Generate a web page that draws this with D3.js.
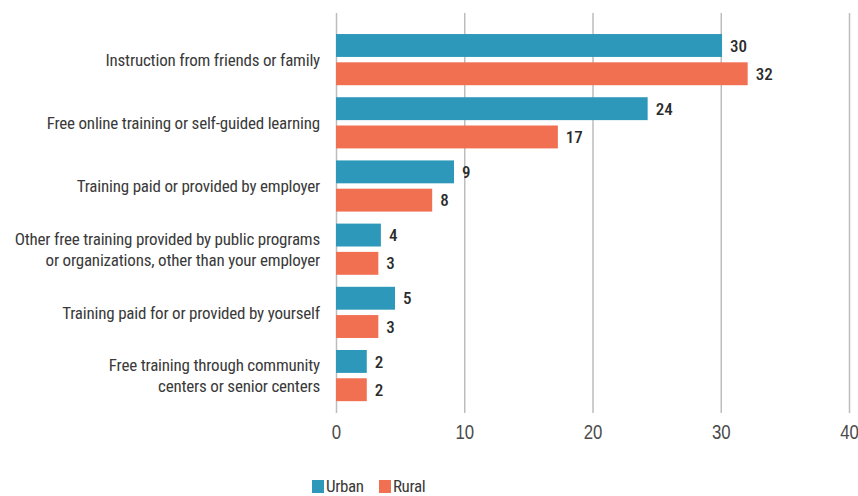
<!DOCTYPE html>
<html>
<head>
<meta charset="utf-8">
<script src="https://cdn.jsdelivr.net/npm/d3@7"></script>
<style>
  html, body { margin: 0; padding: 0; background: #fff; }
  svg { display: block; font-family: "Roboto Condensed", "Liberation Sans Narrow", "Roboto", sans-serif; }
</style>
</head>
<body>
<svg id="chart" width="858" height="496"></svg>
<script>
// Sources of digital-skills training, share of respondents (%)
const categories = [
  ["Instruction from friends or family"],
  ["Free online training or self-guided learning"],
  ["Training paid or provided by employer"],
  ["Other free training provided by public programs", "or organizations, other than your employer"],
  ["Training paid for or provided by yourself"],
  ["Free training through community", "centers or senior centers"]
];
const urban = [30.1, 24.3, 9.2, 3.5, 4.6, 2.4];
const rural = [32.1, 17.3, 7.5, 3.3, 3.3, 2.4];
const seriesNames = ["Urban", "Rural"];
const seriesColors = ["#2e98ba", "#f17052"];
const xTicks = [0, 10, 20, 30, 40];

const svg = d3.select("#chart");
const plotLeft = 336, plotRight = 849, plotTop = 13, plotBottom = 413;

const rows = categories.map((lines, i) => ({ id: i, lines, values: [urban[i], rural[i]] }));

const x = d3.scaleLinear().domain([0, 40]).range([plotLeft, plotRight]);
const y = d3.scaleBand().domain(rows.map(d => d.id)).range([plotTop, plotBottom])
  .paddingInner(0.19).paddingOuter(0.26).align(0.64);
const ySub = d3.scaleBand().domain([0, 1]).range([0, y.bandwidth()]).paddingInner(0.19);
const color = d3.scaleOrdinal().domain([0, 1]).range(seriesColors);

// vertical gridlines and tick labels
const xAxis = d3.axisBottom(x).tickValues(xTicks).tickSize(-(plotBottom - plotTop)).tickPadding(12);
const gx = svg.append("g").attr("transform", `translate(0,${plotBottom})`).call(xAxis);
gx.select(".domain").remove();
gx.selectAll(".tick line").attr("stroke", "#bdbdbd").attr("stroke-width", 1.5);
gx.selectAll(".tick text")
  .attr("fill", "#4a4a4a")
  .attr("font-size", 20)
  .attr("font-weight", 300)
  .attr("transform", "scale(0.84,1)");

// bars
const groups = svg.append("g").selectAll("g").data(rows).join("g")
  .attr("transform", d => `translate(0,${y(d.id)})`);

groups.selectAll("rect").data(d => d.values.map((v, k) => ({ v, k }))).join("rect")
  .attr("x", x(0))
  .attr("y", d => ySub(d.k))
  .attr("width", d => x(d.v) - x(0))
  .attr("height", ySub.bandwidth())
  .attr("fill", d => color(d.k));

groups.selectAll("text.val").data(d => d.values.map((v, k) => ({ v, k }))).join("text")
  .attr("class", "val")
  .attr("x", d => x(d.v) + 8)
  .attr("y", d => ySub(d.k) + ySub.bandwidth() / 2)
  .attr("dy", "0.36em")
  .attr("font-size", 17)
  .attr("font-weight", 500)
  .attr("fill", "#2b2b2b")
  .text(d => d3.format(".0f")(d.v));

// category labels
const lineH = 20.5;
svg.append("g").selectAll("text").data(rows).join("text")
  .attr("x", plotLeft - 16)
  .attr("y", d => y(d.id) + y.bandwidth() / 2 - (d.lines.length - 1) * lineH / 2)
  .attr("text-anchor", "end")
  .attr("font-size", 17)
  .attr("letter-spacing", "-0.2px")
  .attr("fill", "#3a3a3a")
  .each(function (d) {
    d3.select(this).selectAll("tspan").data(d.lines).join("tspan")
      .attr("x", plotLeft - 16)
      .attr("dy", (l, i) => i === 0 ? "0.36em" : lineH)
      .text(l => l);
  });

// legend
const legend = svg.append("g").attr("transform", "translate(312,480)");
const items = legend.selectAll("g").data(seriesNames).join("g")
  .attr("transform", (d, i) => `translate(${i * 67},0)`);
items.append("rect").attr("width", 12).attr("height", 13).attr("fill", (d, i) => seriesColors[i]);
items.append("text").attr("x", 14).attr("y", 12).attr("font-size", 17)
  .attr("letter-spacing", "-0.4px")
  .attr("fill", "#3a3a3a").text(d => d);
</script>
</body>
</html>
